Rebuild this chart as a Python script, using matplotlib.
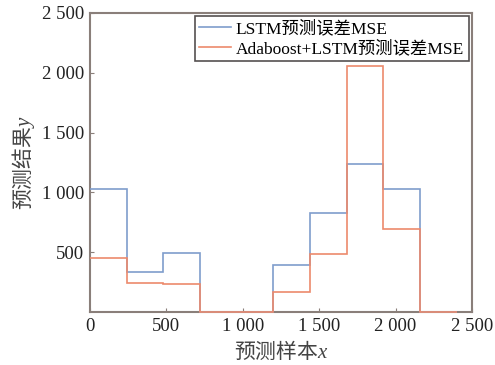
import numpy as np
import matplotlib
matplotlib.use('Agg')
import matplotlib.pyplot as plt

# границы интервалов по выборке и значения MSE по интервалам
edges = [0, 240, 480, 720, 960, 1200, 1440, 1680, 1920, 2160, 2400]
mse_lstm = [1028, 334, 491, 0, 0, 393, 825, 1235, 1028, 0]
mse_ada = [449, 242, 234, 0, 0, 170, 485, 2059, 691, 0]

ticks = [0, 500, 1000, 1500, 2000, 2500]
tick_labels = ['0', '500', '1 000', '1 500', '2 000', '2 500']

fam = ['Liberation Serif', 'Noto Sans CJK SC']
plt.rcParams['font.family'] = fam
# подписи осей: иероглифы + курсивная буква через mathtext
plt.rcParams['mathtext.fontset'] = 'custom'
plt.rcParams['mathtext.rm'] = 'Noto Sans CJK SC'
plt.rcParams['mathtext.it'] = 'Liberation Serif:italic'

fig = plt.figure(figsize=(4.95, 3.65), dpi=100)
ax = fig.add_axes([0.1818, 0.1452, 0.7717, 0.8192])

ax.stairs(mse_lstm, edges, baseline=None, color='#7f9dcc', lw=1.2,
          label='LSTM预测误差MSE', zorder=3, clip_on=False)
ax.stairs(mse_ada, edges, baseline=None, color='#ec8a6c', lw=1.2,
          label='Adaboost+LSTM预测误差MSE', zorder=3, clip_on=False)

ax.set_xlim(0, 2500)
ax.set_ylim(0, 2500)
ax.set_xticks(ticks)
ax.set_xticklabels(tick_labels)
ax.set_yticks(ticks[1:])
ax.set_yticklabels(tick_labels[1:])
ax.tick_params(direction='in', length=3, width=0.8, color='#8a7f7a',
               labelsize=13.5, labelcolor='#222222', pad=4)

for s in ax.spines.values():
    s.set_color('#8a7f7a')
    s.set_linewidth(1.5)

ax.set_xlabel(r'$\mathrm{预测样本}x$', fontsize=15, color='#444444', labelpad=4)
ax.set_ylabel(r'$\mathrm{预测结果}y$', fontsize=15, color='#444444', labelpad=4)

leg = ax.legend(loc='upper right', fontsize=12.5, frameon=True, fancybox=False,
                borderpad=0.25, handlelength=1.8, handletextpad=0.3,
                labelspacing=0.15, borderaxespad=0.2, framealpha=1)
leg.get_frame().set_edgecolor('#555050')
leg.get_frame().set_linewidth(1.2)

fig.savefig('out.png', dpi=100)
